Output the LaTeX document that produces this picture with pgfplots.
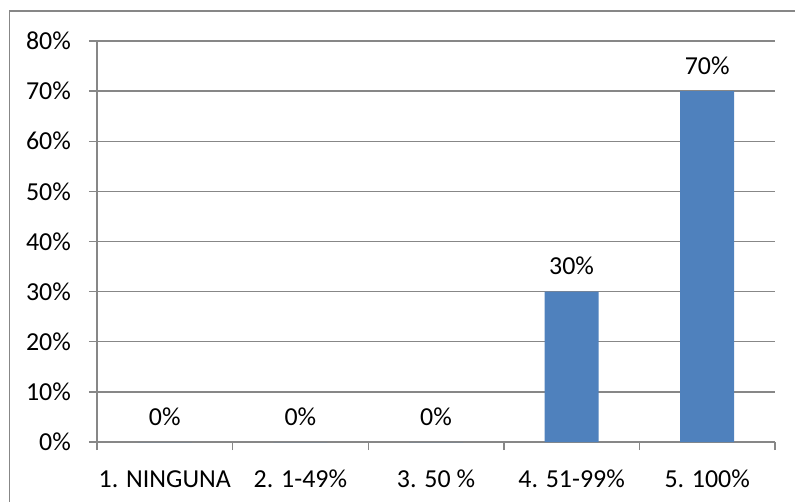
\documentclass[border=0pt]{standalone}
\usepackage{pgfplots}
\pgfplotsset{compat=1.18}
\usepackage{fontspec}
\setmainfont{Carlito}
\definecolor{barblue}{HTML}{4F81BD}
\definecolor{axisgray}{HTML}{878787}
\begin{document}
\begin{tikzpicture}
\useasboundingbox (0bp,0bp) rectangle (795bp,502bp);
% outer chart frame
\draw[axisgray, line width=1.4bp] (9.5bp,0bp) -- (9.5bp,491bp) -- (795bp,491bp);
\begin{axis}[
  at={(97bp,60bp)}, anchor=south west,
  width=678bp, height=401bp, scale only axis,
  font=\fontsize{26}{31}\selectfont,
  /pgf/number format/assume math mode=true,
  ybar, bar width=54bp,
  xmin=-0.5, xmax=4.5,
  ymin=0, ymax=80,
  xtick={0,1,2,3,4},
  xticklabels={1. NINGUNA, 2. 1-49\%, 3. 50 \%, 4. 51-99\%, 5. 100\%},
  minor xtick={-0.5,0.5,1.5,2.5,3.5,4.5},
  major x tick style={draw=none},
  minor tick length=8bp,
  ytick={0,10,...,80},
  yticklabel={\pgfmathprintnumber{\tick}\%},
  major tick length=8bp,
  tick align=outside,
  axis lines*=left,
  axis line style={axisgray, line width=1.4bp},
  tick style={axisgray, line width=1.4bp},
  ymajorgrids,
  grid style={axisgray, line width=1.4bp},
  xticklabel style={anchor=base, yshift=-37bp},
  yticklabel style={anchor=east, inner sep=0pt, xshift=-18bp},
  nodes near coords={\pgfmathprintnumber{\pgfplotspointmeta}\%},
  nodes near coords align={vertical},
  every node near coord/.style={anchor=base, yshift=17bp, black},
  clip=false,
]
\addplot[fill=barblue, draw=none] coordinates {(0,0) (1,0) (2,0) (3,30) (4,70)};
\end{axis}
\end{tikzpicture}
\end{document}
